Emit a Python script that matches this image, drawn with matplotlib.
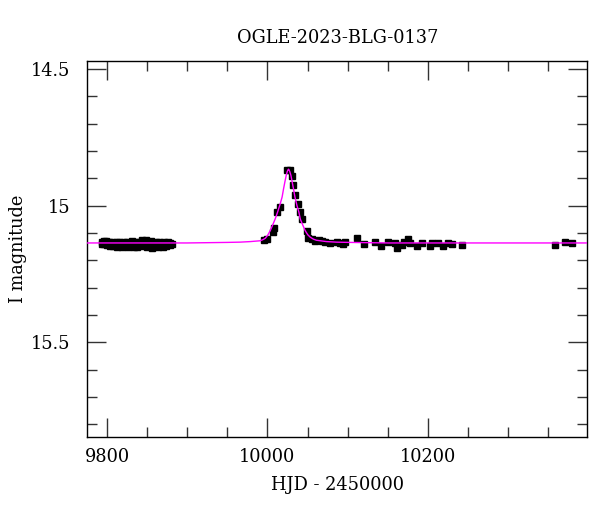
import matplotlib
matplotlib.use("Agg")
import matplotlib.pyplot as plt
from matplotlib.ticker import MultipleLocator

title = "OGLE-2023-BLG-0137"
xlabel = "HJD - 2450000"
ylabel = "I magnitude"

# baseline cluster (season 1)
hjd_base = [9793.2, 9794.1, 9795.8, 9796.6, 9798.0, 9799.1, 9800.4, 9801.2, 9802.9, 9803.7,
            9805.1, 9806.3, 9807.0, 9808.4, 9809.6, 9810.5, 9812.0, 9812.8, 9814.3, 9815.1,
            9816.6, 9817.9, 9818.7, 9820.2, 9821.0, 9822.6, 9823.5, 9824.9, 9826.1, 9827.0,
            9828.4, 9829.3, 9830.8, 9831.7, 9833.0, 9834.2, 9835.1, 9836.5, 9837.4, 9838.9,
            9840.0, 9841.2, 9842.1, 9843.6, 9844.5, 9845.9, 9846.8, 9848.1, 9849.3, 9850.2,
            9851.6, 9852.5, 9853.9, 9855.0, 9856.2, 9857.4, 9858.3, 9859.7, 9860.6, 9862.0,
            9863.1, 9864.4, 9865.3, 9866.7, 9868.0, 9869.2, 9870.5, 9871.6, 9872.8, 9874.1,
            9875.4, 9876.6, 9877.9, 9879.1, 9880.6]
mag_base = [15.132, 15.138, 15.128, 15.141, 15.135, 15.130, 15.144, 15.136, 15.131, 15.146,
            15.138, 15.133, 15.148, 15.140, 15.135, 15.143, 15.131, 15.150, 15.139, 15.134,
            15.145, 15.137, 15.152, 15.141, 15.133, 15.147, 15.139, 15.131, 15.150, 15.142,
            15.136, 15.146, 15.130, 15.141, 15.152, 15.137, 15.144, 15.133, 15.149, 15.139,
            15.131, 15.145, 15.138, 15.127, 15.148, 15.136, 15.142, 15.125, 15.139, 15.151,
            15.134, 15.144, 15.137, 15.130, 15.153, 15.141, 15.135, 15.146, 15.132, 15.140,
            15.149, 15.136, 15.131, 15.143, 15.138, 15.150, 15.134, 15.142, 15.137, 15.146,
            15.133, 15.140, 15.136, 15.143, 15.138]

# event and later data
hjd_evt = [9995.1, 9999.4, 10006.4, 10008.8, 10011.8, 10015.1, 10024.3, 10028.4, 10030.5, 10032.5,
           10034.6, 10038.0, 10040.0, 10043.0, 10049.2, 10051.2, 10055.5, 10059.6, 10063.7, 10067.9,
           10072.0, 10077.4, 10086.6, 10090.7, 10094.8, 10097.0, 10112.3, 10121.0, 10134.3, 10141.4,
           10150.2, 10159.3, 10161.4, 10167.6, 10170.5, 10175.1, 10177.9, 10186.3, 10192.5, 10202.9,
           10205.0, 10213.2, 10218.7, 10225.7, 10229.9, 10242.4, 10358.6, 10371.1, 10379.4]
mag_evt = [15.124, 15.121, 15.097, 15.081, 15.023, 15.003, 14.870, 14.870, 14.892, 14.925,
           14.962, 14.993, 15.021, 15.048, 15.091, 15.119, 15.121, 15.128, 15.124, 15.128,
           15.133, 15.137, 15.133, 15.136, 15.140, 15.131, 15.119, 15.140, 15.131, 15.146,
           15.133, 15.136, 15.155, 15.143, 15.133, 15.121, 15.136, 15.148, 15.137, 15.146,
           15.136, 15.137, 15.146, 15.137, 15.140, 15.143, 15.143, 15.133, 15.137]

# model curve
hjd_model = [9775.0, 9900.0, 9950.0, 9966.0, 9978.6, 9991.0, 9994.3, 9997.3, 10000.3, 10003.5,
             10006.3, 10009.7, 10012.8, 10015.9, 10018.3, 10020.1, 10021.8, 10023.4, 10024.8,
             10025.8, 10026.3, 10026.8, 10027.8, 10029.3, 10030.8, 10032.5, 10034.3, 10036.8,
             10039.3, 10040.9, 10044.3, 10047.1, 10050.3, 10053.4, 10057.3, 10061.0, 10073.6,
             10086.0, 10102.0, 10150.0, 10400.0]
mag_model = [15.136, 15.136, 15.134, 15.133, 15.131, 15.128, 15.124, 15.119, 15.108, 15.091,
             15.072, 15.048, 15.022, 14.993, 14.968, 14.938, 14.912, 14.889, 14.874,
             14.868, 14.866, 14.868, 14.874, 14.889, 14.912, 14.938, 14.968, 14.999,
             15.024, 15.048, 15.072, 15.091, 15.106, 15.115, 15.122, 15.126, 15.131,
             15.133, 15.134, 15.136, 15.136]

plt.rcParams['font.family'] = ['DejaVu Serif']
fig = plt.figure(figsize=(6.0, 5.12), dpi=100)
ax = fig.add_axes([0.145, 0.147, 0.834, 0.734])

ax.plot(hjd_base, mag_base, 's', color='black', markersize=3.8, zorder=2)
ax.plot(hjd_evt, mag_evt, 's', color='black', markersize=3.8, zorder=2)
ax.plot(hjd_model, mag_model, '-', color='#ff00ff', linewidth=1.0, zorder=3)

ax.set_xlim(9775, 10399)
ax.set_ylim(15.845, 14.47)

ax.xaxis.set_major_locator(MultipleLocator(200))
ax.xaxis.set_minor_locator(MultipleLocator(50))
ax.yaxis.set_major_locator(MultipleLocator(0.5))
ax.yaxis.set_minor_locator(MultipleLocator(0.1))
ax.set_yticks([14.5, 15.0, 15.5])
ax.set_yticklabels(["14.5", "15", "15.5"])

ax.tick_params(which='both', direction='in', top=True, right=True, width=1.0, color='#333333')
ax.tick_params(which='major', length=13.5, labelsize=12.8)
ax.tick_params(which='major', axis='x', pad=8)
ax.tick_params(which='major', axis='y', pad=12)
ax.tick_params(which='minor', length=7.5)
for s in ax.spines.values():
    s.set_linewidth(1.0)

ax.set_xlabel(xlabel, fontsize=12.8, labelpad=7)
ax.set_ylabel(ylabel, fontsize=12.8)
ax.yaxis.set_label_coords(-0.12, 0.5)
ax.set_title(title, fontsize=12.8, pad=13)

fig.savefig("out.png", dpi=100)
